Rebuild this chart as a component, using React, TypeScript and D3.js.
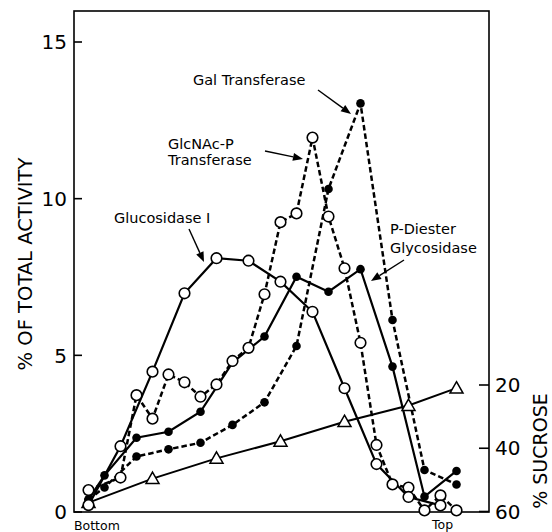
import React from "react";
import * as d3 from "d3";

const W = 552;
const H = 532;

// Fractions (x) and values (% of total activity)
const glucosidaseFr = [1, 3, 5, 7, 9, 11, 13, 15, 17, 19, 21, 23];
const glucosidaseVal = [0.22, 2.1, 4.48, 6.98, 8.1, 8.02, 7.35, 6.39, 3.95, 1.53, 0.48, 0.21];

const glcnacFr = [1, 3, 4, 5, 6, 7, 8, 9, 10, 11, 12, 13, 14, 15, 16, 17, 18, 19, 20, 21, 22, 23, 24];
const glcnacVal = [0.7, 1.1, 3.73, 2.98, 4.39, 4.14, 3.68, 4.07, 4.82, 5.24, 6.95, 9.25, 9.53, 11.95, 9.43, 7.78, 5.4, 2.14, 0.88, 0.78, 0.05, 0.53, 0.05];

const galFr = [1, 2, 4, 6, 8, 10, 12, 14, 16, 18, 20, 22, 24];
const galVal = [0.4, 0.78, 1.77, 2.0, 2.21, 2.78, 3.5, 5.3, 10.31, 13.04, 6.13, 1.34, 0.88];

const pdFr = [1, 2, 4, 6, 8, 10, 12, 14, 16, 18, 20, 22, 24];
const pdVal = [0.4, 1.17, 2.37, 2.56, 3.2, 4.77, 5.6, 7.51, 7.03, 7.75, 4.64, 0.49, 1.31];

const sucroseFr = [1, 5, 9, 13, 17, 21, 24];
const sucroseVal = [57.2, 49.6, 43.2, 37.8, 31.6, 26.5, 21.0];

const leftTicks = [0, 5, 10, 15];
const rightTicks = [20, 40, 60];

const FONT = "DejaVu Sans, sans-serif";

export default function App() {
  const x = d3.scaleLinear().domain([1, 24]).range([88.5, 456.5]);
  const y = d3.scaleLinear().domain([0, 15]).range([512, 42]);
  const yS = d3.scaleLinear().domain([20, 60]).range([385, 511.5]);

  const frame = { x0: 74, x1: 489, y0: 11, y1: 512 };

  const line = d3.line<[number, number]>().x((d) => d[0]).y((d) => d[1]);
  const pts = (fr: number[], vals: number[], sc: (v: number) => number) =>
    fr.map((f, i) => [x(f), sc(vals[i])] as [number, number]);

  const gluc = pts(glucosidaseFr, glucosidaseVal, y);
  const glc = pts(glcnacFr, glcnacVal, y);
  const gal = pts(galFr, galVal, y);
  const pd = pts(pdFr, pdVal, y);
  const suc = pts(sucroseFr, sucroseVal, yS);

  const dash = "5.5,3";

  const openCircle = (p: [number, number], k: string) => (
    <circle key={k} cx={p[0]} cy={p[1]} r={5.3} fill="#fff" stroke="#000" strokeWidth={1.6} />
  );
  const dot = (p: [number, number], k: string) => (
    <circle key={k} cx={p[0]} cy={p[1]} r={4.3} fill="#000" />
  );
  const tri = (p: [number, number], k: string) => {
    const s = 6.5;
    const d = `M${p[0]},${p[1] - s}L${p[0] + s},${p[1] + s * 0.75}L${p[0] - s},${p[1] + s * 0.75}Z`;
    return <path key={k} d={d} fill="#fff" stroke="#000" strokeWidth={1.5} />;
  };

  const arrow = (x1: number, y1: number, x2: number, y2: number, k: string) => {
    const ang = Math.atan2(y2 - y1, x2 - x1);
    const L = 10;
    const w = 4;
    const bx = x2 - L * Math.cos(ang);
    const by = y2 - L * Math.sin(ang);
    const px = -Math.sin(ang) * w;
    const py = Math.cos(ang) * w;
    return (
      <g key={k}>
        <line x1={x1} y1={y1} x2={bx} y2={by} stroke="#000" strokeWidth={1.4} />
        <path d={`M${x2},${y2}L${bx + px},${by + py}L${bx - px},${by - py}Z`} fill="#000" />
      </g>
    );
  };

  return (
    <svg width={W} height={H} style={{ position: "absolute", left: 0, top: 0, background: "#fff" }} fontFamily={FONT}>
      <rect x={0} y={0} width={W} height={H} fill="#fff" />
      {/* frame */}
      <rect x={frame.x0} y={frame.y0} width={frame.x1 - frame.x0} height={frame.y1 - frame.y0} fill="none" stroke="#000" strokeWidth={1.6} />
      {/* left ticks */}
      {leftTicks.map((t) => (
        <g key={"lt" + t}>
          <line x1={frame.x0} x2={frame.x0 + 8} y1={y(t)} y2={y(t)} stroke="#000" strokeWidth={1.6} />
          <text x={67} y={y(t)} dy="0.36em" textAnchor="end" fontSize={20} fill="#000">{t}</text>
        </g>
      ))}
      {/* right ticks */}
      {rightTicks.map((t) => (
        <g key={"rt" + t}>
          <line x1={frame.x1 - 10} x2={frame.x1} y1={yS(t)} y2={yS(t)} stroke="#000" strokeWidth={1.6} />
          <text x={495} y={yS(t)} dy="0.36em" textAnchor="start" fontSize={20} fill="#000">{t}</text>
        </g>
      ))}
      {/* axis titles */}
      <text transform="translate(32,264) rotate(-90)" textAnchor="middle" fontSize={19.5} fill="#000">% OF TOTAL ACTIVITY</text>
      <text transform="translate(547,451) rotate(-90)" textAnchor="middle" fontSize={19} fill="#000">% SUCROSE</text>
      <text x={74} y={529.5} fontSize={12.5} fill="#000">Bottom</text>
      <text x={432} y={529} fontSize={12.5} fill="#000">Top</text>

      {/* lines */}
      <path d={line(suc) || ""} fill="none" stroke="#000" strokeWidth={2} />
      <path d={line(gluc) || ""} fill="none" stroke="#000" strokeWidth={2.2} />
      <path d={line(pd) || ""} fill="none" stroke="#000" strokeWidth={2.2} />
      <path d={line(glc) || ""} fill="none" stroke="#000" strokeWidth={2.5} strokeDasharray={dash} />
      <path d={line(gal) || ""} fill="none" stroke="#000" strokeWidth={2.5} strokeDasharray={dash} />

      {/* markers */}
      {suc.map((p, i) => tri(p, "s" + i))}
      {gal.map((p, i) => dot(p, "g" + i))}
      {pd.map((p, i) => dot(p, "p" + i))}
      {glc.map((p, i) => openCircle(p, "c" + i))}
      {gluc.map((p, i) => openCircle(p, "u" + i))}

      {/* annotations */}
      <text x={193} y={85} fontSize={14.5} fill="#000">Gal Transferase</text>
      {arrow(318, 90, 351, 114, "a1")}
      <text x={168} y={149} fontSize={14.5} fill="#000">GlcNAc-P</text>
      <text x={168} y={165} fontSize={14.5} fill="#000">Transferase</text>
      {arrow(265, 151, 303, 159, "a2")}
      <text x={114} y={223} fontSize={14.5} fill="#000">Glucosidase I</text>
      {arrow(189, 229, 204, 262, "a3")}
      <text x={390} y={234} fontSize={14.5} fill="#000">P-Diester</text>
      <text x={390} y={253} fontSize={14.5} fill="#000">Glycosidase</text>
      {arrow(404, 260, 371, 281, "a4")}
    </svg>
  );
}
